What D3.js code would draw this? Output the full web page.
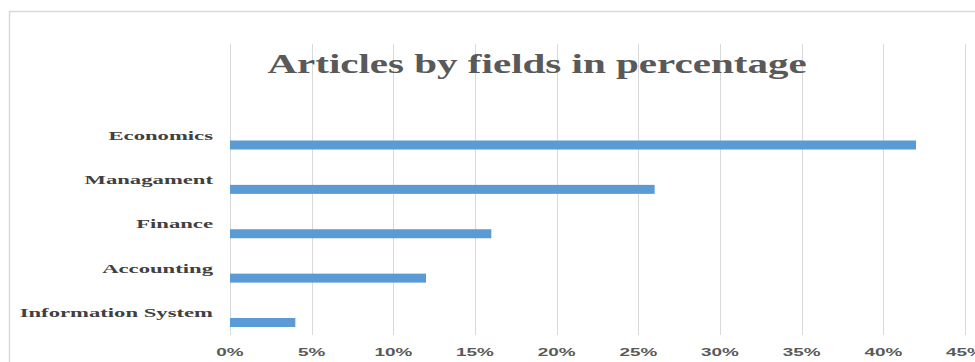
<!DOCTYPE html>
<html>
<head>
<meta charset="utf-8">
<script src="https://cdn.jsdelivr.net/npm/d3@7"></script>
<style>
  html, body { margin: 0; padding: 0; background: #fff; }
  svg { display: block; }
</style>
</head>
<body>
<svg id="chart" width="975" height="362"></svg>
<script>
// Share of articles per research field (percent)
const fields = ["Economics", "Managament", "Finance", "Accounting", "Information System"];
const shares = [42, 26, 16, 12, 4];
const tickValues = [0, 5, 10, 15, 20, 25, 30, 35, 40, 45];
const title = "Articles by fields in percentage";

const plot = { left: 230, right: 965, top: 44, bottom: 335 };
// horizontal widening of the letterforms
const titleStretch = 1.52, labelStretch = 1.68, tickStretch = 1.72;

const svg = d3.select("#chart");

// chart-area frame
svg.append("rect")
  .attr("x", 9.5).attr("y", 11.5)
  .attr("width", 1000).attr("height", 400)
  .attr("fill", "#fff")
  .attr("stroke", "#d9d9d9")
  .attr("stroke-width", 1.5);

const x = d3.scaleLinear().domain([0, 45]).range([plot.left, plot.right]);
const y = d3.scalePoint().domain(fields).range([145, 322.5]);
const barH = 9;

// vertical gridlines
svg.append("g")
  .selectAll("line")
  .data(tickValues)
  .join("line")
  .attr("x1", d => Math.round(x(d)) + 0.5)
  .attr("x2", d => Math.round(x(d)) + 0.5)
  .attr("y1", plot.top)
  .attr("y2", plot.bottom)
  .attr("stroke", "#d9d9d9")
  .attr("stroke-width", 1);

// title
svg.append("text")
  .attr("transform", `translate(537,73) scale(${titleStretch},1)`)
  .attr("text-anchor", "middle")
  .attr("font-family", "'Liberation Serif', 'Times New Roman', serif")
  .attr("font-weight", "bold")
  .attr("font-size", 27)
  .attr("fill", "#595959")
  .text(title);

// bars
svg.append("g")
  .selectAll("rect")
  .data(fields)
  .join("rect")
  .attr("x", x(0))
  .attr("y", d => y(d) - barH / 2)
  .attr("width", (d, i) => x(shares[i]) - x(0))
  .attr("height", barH)
  .attr("fill", "#5b9bd5");

// category labels
svg.append("g")
  .selectAll("text")
  .data(fields)
  .join("text")
  .attr("transform", d => `translate(213,${y(d) - 5.5}) scale(${labelStretch},1)`)
  .attr("text-anchor", "end")
  .attr("font-family", "'Liberation Serif', 'Times New Roman', serif")
  .attr("font-weight", "bold")
  .attr("font-size", 13.5)
  .attr("fill", "#404040")
  .text(d => d);

// x axis tick labels
const fmt = d => d + "%";
svg.append("g")
  .selectAll("text")
  .data(tickValues)
  .join("text")
  .attr("transform", d => `translate(${x(d)},356) scale(${tickStretch},1)`)
  .attr("text-anchor", "middle")
  .attr("font-family", "'Liberation Sans', Arial, sans-serif")
  .attr("font-weight", "bold")
  .attr("font-size", 11)
  .attr("fill", "#595959")
  .text(fmt);
</script>
</body>
</html>
